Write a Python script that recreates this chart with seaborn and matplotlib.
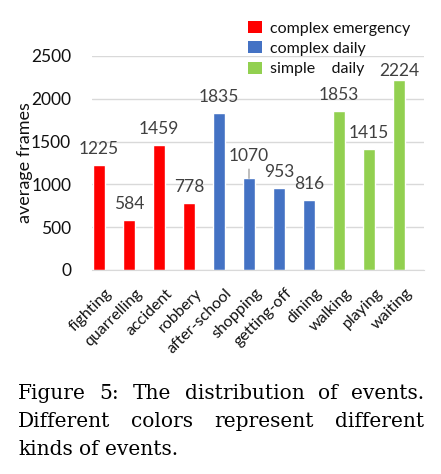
import numpy as np
import pandas as pd
import seaborn as sns
import matplotlib.pyplot as plt
from matplotlib.patches import Patch

# data
events = ['fighting', 'quarrelling', 'accident', 'robbery', 'after-school',
          'shopping', 'getting-off', 'dining', 'walking', 'playing', 'waiting']
frames = [1225, 584, 1459, 778, 1835, 1070, 953, 816, 1853, 1415, 2224]
kinds = ['complex emergency'] * 4 + ['complex daily'] * 4 + ['simple daily'] * 3
kind_names = ['complex emergency', 'complex daily', 'simple daily']
legend_labels = ['complex emergency', 'complex daily', 'simple    daily']
yticks = [0, 500, 1000, 1500, 2000, 2500]
caption = [
    'Figure 5: The distribution of events.',
    'Different colors represent different',
    'kinds of events.',
]

colors = {'complex emergency': '#FF0000', 'complex daily': '#4472C4', 'simple daily': '#92D050'}
# label offsets above bar tops (pixels); a couple of labels sit differently
label_offset = {5: 22, 10: 9}

sns.set_style('white')
plt.rcParams['font.family'] = ['Lato', 'DejaVu Sans']

df = pd.DataFrame({'event': events, 'frames': frames, 'kind': kinds})

fig = plt.figure(figsize=(4.41, 4.74), dpi=100)
ax = fig.add_axes([92 / 441, 1 - 270 / 474, (424 - 92) / 441, (270 - 56) / 474])

sns.barplot(data=df, x='event', y='frames', hue='kind', hue_order=kind_names,
            palette=colors, dodge=False, width=0.4, saturation=1, ax=ax)

ax.set_xlim(-0.23, 10.83)
ax.set_ylim(0, 2500)
ax.set_yticks(yticks)
ax.set_yticklabels([str(t) for t in yticks], fontsize=12.5, color='#111111')
ax.grid(axis='y', color='#D9D9D9', linewidth=1)
ax.set_axisbelow(True)
for s in ['top', 'right', 'left']:
    ax.spines[s].set_visible(False)
ax.spines['bottom'].set_color('#D9D9D9')
ax.tick_params(axis='both', length=0)
ax.tick_params(axis='y', pad=15)
ax.set_xlabel('')
ax.set_ylabel('average frames', fontsize=13, color='#111111')
ax.yaxis.set_label_coords(-0.178, 0.5)

# rotated category labels, anchored at their right end below each bar
ax.set_xticks(range(len(events)))
ax.set_xticklabels([])
for i, ev in enumerate(events):
    ax.annotate(ev, (i, 0), xytext=(11, -21), textcoords='offset pixels',
                rotation=45, ha='right', va='center', rotation_mode='anchor',
                fontsize=11.5, color='#111111', annotation_clip=False)

for i, v in enumerate(frames):
    off = label_offset.get(i, 16)
    arrow = dict(arrowstyle='-', color='#8C8C8C', lw=0.8, shrinkA=1, shrinkB=0) if i == 5 else None
    ax.annotate(str(v), (i, v), xytext=(0, off), textcoords='offset pixels',
                ha='center', va='center', fontsize=12.5, color='#404040',
                arrowprops=arrow)

ax.get_legend().remove()
handles = [Patch(facecolor=colors[k], edgecolor='none') for k in kind_names]
fig.legend(handles, legend_labels, loc='upper left', bbox_to_anchor=(248 / 441, 1 - 21 / 474),
           frameon=False, fontsize=11.5, handlelength=0.9, handleheight=0.8,
           handletextpad=0.5, labelspacing=0.35, borderaxespad=0, borderpad=0,
           labelcolor='#111111')

# justified caption below the chart
left_px, right_px = 18, 424
baselines = [399, 427, 455]
fig.canvas.draw()
renderer = fig.canvas.get_renderer()
for n, line in enumerate(caption):
    words = line.split(' ')
    texts = [fig.text(0, 1 - baselines[n] / 474, w, fontsize=14.5, family='DejaVu Serif',
                      color='black', va='baseline', ha='left') for w in words]
    widths = [t.get_window_extent(renderer).width for t in texts]
    if n < len(caption) - 1:
        gap = (right_px - left_px - sum(widths)) / (len(words) - 1)
    else:
        gap = fig.text(0, 0, 'a a', fontsize=14.5, family='DejaVu Serif').get_window_extent(renderer).width
        gap -= 2 * fig.text(0, 0, 'a', fontsize=14.5, family='DejaVu Serif').get_window_extent(renderer).width
        for t in fig.texts[-2:]:
            t.remove()
    x = left_px
    for t, w in zip(texts, widths):
        t.set_x(x / 441)
        x += w + gap

fig.savefig('out.png', dpi=100)
